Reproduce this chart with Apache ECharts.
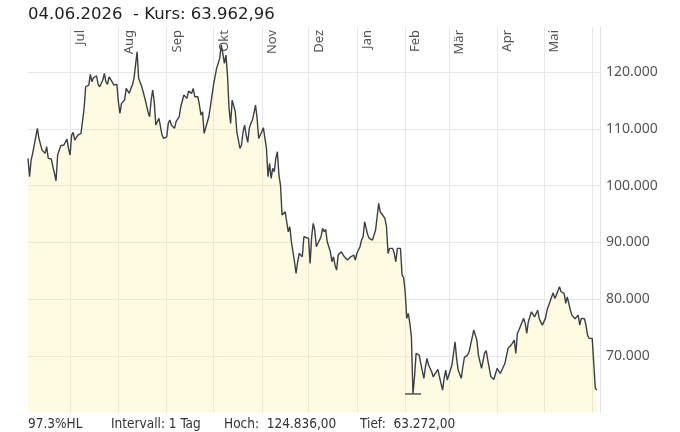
<!DOCTYPE html>
<html><head><meta charset="utf-8">
<script src="https://cdn.jsdelivr.net/npm/echarts@6/dist/echarts.min.js"></script>
<style>html,body{margin:0;padding:0;background:#fff}#c{width:680px;height:432px}</style>
</head><body><div id="c"></div>
<script>
// first day of the series (year, monthIndex, day)
const startDate = [2025, 5, 4];
// calendar-day offsets from startDate
const dayOffsets = [
0,1,2,3,4,6,7,9,10,11,
12,13,15,16,17,18,19,20,21,23,
24,25,26,27,28,29,30,32,33,34,
36,37,39,40,41,42,44,45,46,48,
49,50,51,52,54,55,57,58,59,60,
61,62,63,65,66,67,68,69,70,71,
73,74,75,77,78,79,80,81,82,84,
85,86,87,89,90,91,92,94,95,97,
98,100,101,102,103,105,106,107,109,110,
111,112,113,114,116,117,118,119,121,122,
123,124,125,126,127,128,129,130,131,132,
133,134,136,137,138,139,140,141,142,143,
144,146,147,148,150,151,153,154,155,156,
157,158,159,160,161,162,163,165,166,167,
168,169,171,172,173,174,176,177,178,180,
181,182,183,184,185,186,188,189,190,191,
192,194,195,196,197,198,199,201,202,203,
204,205,207,208,209,210,211,213,214,215,
216,217,218,219,221,222,223,224,225,226,
227,229,230,231,232,233,234,235,236,237,
239,240,241,242,243,244,245,246,247,248,
249,250,251,252,254,255,256,257,258,259,
260,262,263,264,266,267,268,269,270,272,
274,275,276,278,279,280,282,283,284,286,
288,289,290,291,293,294,295,297,298,299,
300,301,303,304,305,306,308,309,310,312,
313,314,315,316,318,319,320,321,323,324,
325,327,328,329,330,332,333,334,336,337,
338,339,341,342,344,345,346,348,349,350,
351,353,354,355,357,358,359,360,361,362,
363,364,365
];
// closing prices
const closes = [
104830,101580,104530,105710,106000,110120,108360,106290,106000,105710,
106880,104830,104710,103350,102180,100880,105410,105710,107050,107180,
107480,108240,106590,105410,108940,109420,108060,108940,108640,109240,
113650,117460,117760,119650,118340,119050,119400,117880,117460,118640,
119820,118340,117880,119220,118340,117760,117880,114820,112770,114530,
114230,115110,117180,116300,117180,117760,118940,119220,123630,118940,
117460,117280,115410,113050,112170,115110,116880,114820,110700,111880,
112170,108940,108360,108640,111000,111590,110700,110120,111290,112170,
113930,116000,115700,115410,116700,116300,117180,115700,115700,114230,
112470,113050,109240,109520,112170,113930,114230,117760,120700,121590,
122470,124836,123350,121590,123050,119520,113650,111000,115110,115110,
113050,109520,106590,107180,109520,110700,108940,107650,110120,111000,
111590,114230,111880,108360,109520,110240,106590,101580,103950,101300,
103070,102470,104830,106000,101880,100120,94830,95410,93650,91880,
92770,90120,86590,84540,86590,88050,87470,91000,90820,90720,
86300,91000,93360,92180,89240,89240,91000,92480,91880,92300,
90120,88350,86590,87470,86000,85120,87770,88350,88170,87470,
87190,86900,87470,87190,87770,86900,88050,89240,90420,91000,
93650,93650,91300,90720,90420,90540,92180,94530,96890,95410,
95240,94250,92770,88050,88950,89240,88950,88050,86590,88950,
88950,84240,83840,81300,76610,77490,75720,73360,63272,66300,
70430,70130,70130,68660,66020,68070,69550,68370,68660,67180,
66300,67180,67610,66300,63960,66020,67480,65720,66020,68370,
72480,69550,67480,66020,68070,69720,70130,70710,71010,74540,
72770,70130,69840,67780,70540,70900,69240,66300,66020,65840,
66890,67780,66890,66600,68070,68660,71310,71010,71890,72770,
70430,73960,74540,74660,76610,75720,73960,75980,77760,77460,
76850,78040,76540,75980,75420,76610,78040,78350,80410,81110,
80120,80710,82180,81300,81010,79250,80410,78040,77170,76850,
76540,77170,75420,76610,76540,75420,73660,73080,73370,73080,
68660,64250,63962.96
];
const monthNames = ['Jan','Feb','Mär','Apr','Mai','Jun','Jul','Aug','Sep','Okt','Nov','Dez'];
const hiddenMonth = 5; // no label for June
const intervalText = 'Intervall: 1 Tag';
const yMin = 60000, yMax = 128000, yStep = 10000;

function dayDate(off) { return new Date(startDate[0], startDate[1], startDate[2] + off); }
function de(n, dec) {
  const s = n.toFixed(dec); const p = s.split('.');
  const i = p[0].replace(/\B(?=(\d{3})+(?!\d))/g, '.');
  return p[1] ? i + ',' + p[1] : i;
}
function pad(n) { return (n < 10 ? '0' : '') + n; }

const seriesData = dayOffsets.map((o, i) => [dayDate(o).getTime(), closes[i]]);
const hi = Math.max(...closes), lo = Math.min(...closes);
const last = closes[closes.length - 1];
const lastD = dayDate(dayOffsets[dayOffsets.length - 1]);
const titleText = pad(lastD.getDate()) + '.' + pad(lastD.getMonth() + 1) + '.' + lastD.getFullYear() + '  - Kurs: ' + de(last, 2);
const hlText = ((hi - lo) / lo * 100).toFixed(1) + '%HL';

const chart = echarts.init(document.getElementById('c'), null, {renderer: 'canvas'});
const bottomStyle = {fontFamily: "'Liberation Sans Narrow','DejaVu Sans Condensed',sans-serif", fontSize: 13.5, color: '#333', fontWeight: 'normal', lineHeight: 16};
chart.setOption({
  animation: false,
  backgroundColor: '#fff',
  title: [
    {text: titleText, left: 28, top: 5, padding: 0, textStyle: {fontFamily: "'DejaVu Sans',sans-serif", fontSize: 16.5, fontWeight: 'normal', color: '#222', lineHeight: 20}},
    {text: hlText, left: 28, top: 416, padding: 0, textStyle: bottomStyle},
    {text: intervalText, left: 111, top: 416, padding: 0, textStyle: bottomStyle},
    {text: 'Hoch:  ' + de(hi, 2), left: 224, top: 416, padding: 0, textStyle: bottomStyle},
    {text: 'Tief:  ' + de(lo, 2), left: 360, top: 416, padding: 0, textStyle: bottomStyle}
  ],
  grid: {left: 28, right: 80, top: 27, bottom: 19.5, containLabel: false},
  xAxis: {
    type: 'time', position: 'top',
    min: dayDate(0).getTime(),
    max: dayDate(dayOffsets[dayOffsets.length - 1] + 2).getTime(),
    splitNumber: 12, minInterval: 28 * 864e5, maxInterval: 31 * 864e5,
    axisLine: {show: false}, axisTick: {show: false},
    splitLine: {show: true, showMinLine: false, showMaxLine: false, lineStyle: {color: '#e8e8e8', width: 1}},
    axisLabel: {
      inside: true, rotate: -90, align: 'right', verticalAlign: 'top', margin: 3,
      lineHeight: 21, fontSize: 13, color: '#555', fontFamily: "'Noto Sans',sans-serif",
      showMinLabel: false, showMaxLabel: false, hideOverlap: false,
      formatter: function (v) { const m = new Date(v).getMonth(); return m === hiddenMonth ? '' : monthNames[m]; }
    }
  },
  yAxis: {
    type: 'value', position: 'right', min: yMin, max: yMax, interval: yStep,
    axisLine: {show: true, lineStyle: {color: '#e3e3e3'}},
    axisTick: {show: false},
    splitLine: {show: true, showMinLine: false, showMaxLine: false, lineStyle: {color: '#e8e8e8'}},
    axisLabel: {margin: 6, fontSize: 14, color: '#555', fontFamily: "'Noto Sans',sans-serif",
      showMinLabel: false, showMaxLabel: false,
      formatter: function (v) { return (v % yStep === 0 && v > yMin && v < yMax) ? de(v, 0) : ''; }}
  },
  series: [{
    type: 'line', data: seriesData, showSymbol: false, smooth: false,
    lineStyle: {color: '#3a4046', width: 1.4},
    areaStyle: {color: 'rgba(250,236,120,0.3)', origin: 'start'},
    markPoint: {symbol: 'rect', symbolSize: [16, 1.5], silent: true, label: {show: false},
      itemStyle: {color: '#555'}, data: [{type: 'min'}]}
  }]
});
</script></body></html>
